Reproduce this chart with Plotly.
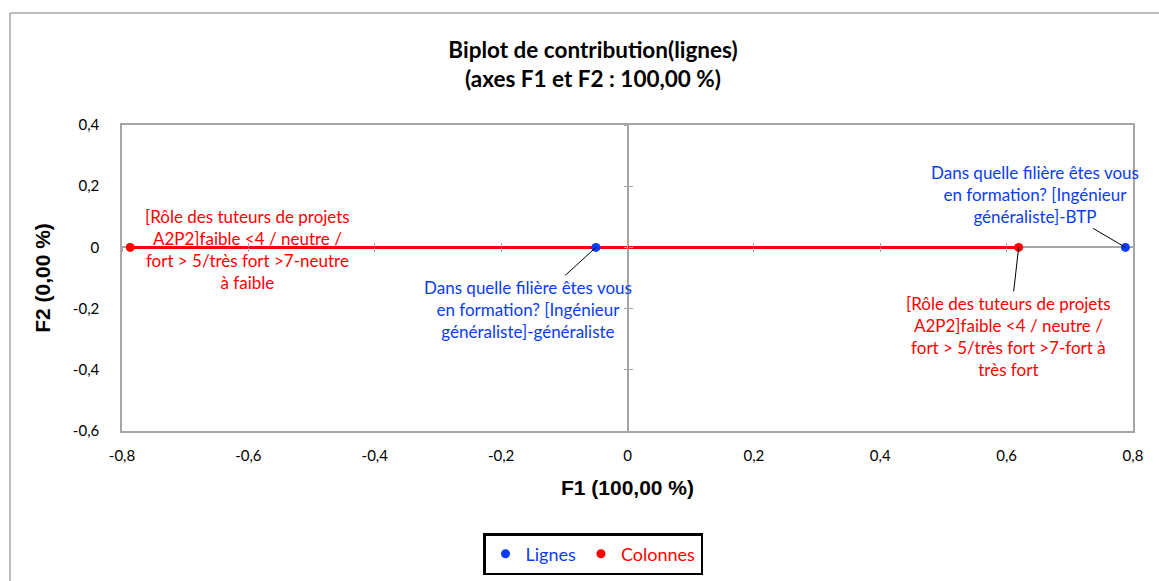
import plotly.graph_objects as go

# ---- data ----
lignes_labels = [
    "Dans quelle filière êtes vous<br>en formation? [Ingénieur<br>généraliste]-généraliste",
    "Dans quelle filière êtes vous<br>en formation? [Ingénieur<br>généraliste]-BTP",
]
lignes_f1 = [-0.05, 0.788]
lignes_f2 = [0.0, 0.0]

colonnes_labels = [
    "[Rôle des tuteurs de projets<br>A2P2]faible <4 / neutre /<br>fort > 5/très fort >7-neutre<br>à faible",
    "[Rôle des tuteurs de projets<br>A2P2]faible <4 / neutre /<br>fort > 5/très fort >7-fort à<br>très fort",
]
colonnes_f1 = [-0.787, 0.619]
colonnes_f2 = [0.0, 0.0]

x_ticks = [-0.8, -0.6, -0.4, -0.2, 0, 0.2, 0.4, 0.6, 0.8]
y_ticks = [-0.6, -0.4, -0.2, 0, 0.2, 0.4]

BLUE = "#0A3CF5"
RED = "#FF0000"
GRAY = "#A6A6A6"
FONT = "Lato"

def fr(v):
    s = f"{v:.1f}".replace(".", ",")
    if s in ("0,0", "-0,0"):
        return "0"
    return s

# body margin is removed by post_script, so container coords == window coords
W, H = 1159, 581
ML, MR, MT, MB = 122, 26, 125, 150
PW = W - ML - MR
PH = H - MT - MB

def px(xw):
    return (xw - ML) / PW

def py(yw):
    return (H - MB - yw) / PH

fig = go.Figure()

fig.add_trace(go.Scatter(x=colonnes_f1, y=colonnes_f2, mode="lines",
                         line=dict(color=RED, width=3), showlegend=False, hoverinfo="skip"))
fig.add_trace(go.Scatter(x=lignes_f1, y=lignes_f2, mode="markers",
                         marker=dict(color=BLUE, size=9),
                         name=f"<span style='color:{BLUE}'>Lignes</span>"))
fig.add_trace(go.Scatter(x=colonnes_f1, y=colonnes_f2, mode="markers",
                         marker=dict(color=RED, size=9),
                         name=f"<span style='color:{RED}'>Colonnes</span>"))

# dummy traces to create the cross-tick axes at zero
for xa, ya in [("x2", "y"), ("x3", "y"), ("x", "y2"), ("x", "y3")]:
    fig.add_trace(go.Scatter(x=[None], y=[None], xaxis=xa, yaxis=ya,
                             showlegend=False, hoverinfo="skip"))

ann_font = dict(family=FONT, size=17)
fig.add_annotation(x=colonnes_f1[0], y=colonnes_f2[0], text=colonnes_labels[0],
                   showarrow=True, arrowcolor="rgba(0,0,0,0)", ax=117, ay=2,
                   font=dict(color=RED, **ann_font), align="center")
fig.add_annotation(x=lignes_f1[0], y=lignes_f2[0], text=lignes_labels[0],
                   showarrow=True, arrowhead=0, arrowwidth=1, arrowcolor="black",
                   ax=-68, ay=62, standoff=0,
                   font=dict(color=BLUE, **ann_font), align="center")
fig.add_annotation(x=lignes_f1[1], y=lignes_f2[1], text=lignes_labels[1],
                   showarrow=True, arrowhead=0, arrowwidth=1, arrowcolor="black",
                   ax=-90, ay=-53, standoff=0,
                   font=dict(color=BLUE, **ann_font), align="center")
fig.add_annotation(x=colonnes_f1[1], y=colonnes_f2[1], text=colonnes_labels[1],
                   showarrow=True, arrowhead=0, arrowwidth=1, arrowcolor="black",
                   ax=-10, ay=89, standoff=0,
                   font=dict(color=RED, **ann_font), align="center")

# outer chart frame
fig.add_shape(type="line", xref="paper", yref="paper",
              x0=px(10), x1=px(10), y0=py(13), y1=py(600),
              line=dict(color=GRAY, width=1.5))
fig.add_shape(type="line", xref="paper", yref="paper",
              x0=px(10), x1=px(1175), y0=py(13), y1=py(13),
              line=dict(color=GRAY, width=1.5))

tickfont = dict(family=FONT, size=15, color="black")
xr = [-0.8, 0.8]
yr = [-0.6, 0.4]

def cross_axis(rng, pos, side_ticks, over):
    return dict(range=rng, overlaying=over, anchor="free", position=pos, dtick=0.2, tick0=0,
                showgrid=False, zeroline=False, showline=False, automargin=False,
                ticks=side_ticks, ticklen=4, tickcolor=GRAY, tickwidth=1,
                showticklabels=False)

fig.update_layout(
    width=W, height=H,
    margin=dict(l=ML, r=MR, t=MT, b=MB, autoexpand=False),
    paper_bgcolor="white", plot_bgcolor="white",
    title=dict(text="<b>Biplot de contribution(lignes)<br>(axes F1 et F2 : 100,00 %)</b>",
               x=593 / W, xanchor="center", yref="container",
               y=1 - 57.5 / H, yanchor="middle",
               font=dict(family=FONT, size=22.5, color="black")),
    xaxis=dict(range=xr, tickvals=x_ticks, ticktext=[fr(v) for v in x_ticks],
               showgrid=False, zeroline=True, zerolinecolor=GRAY, zerolinewidth=1.5,
               showline=True, mirror=True, automargin=False,
               linecolor=GRAY, linewidth=1.5, ticks="", ticklabelstandoff=10,
               tickfont=tickfont,
               title=dict(text="<b>F1 (100,00 %)</b>", standoff=18,
                          font=dict(family="Liberation Sans", size=21, color="black"))),
    yaxis=dict(range=yr, tickvals=y_ticks, ticktext=[fr(v) for v in y_ticks],
               showgrid=False, zeroline=True, zerolinecolor=GRAY, zerolinewidth=1.5,
               showline=True, mirror=True, automargin=False,
               linecolor=GRAY, linewidth=1.5, ticks="", ticklabelstandoff=18,
               tickfont=tickfont,
               title=dict(text="<b>F2 (0,00 %)</b>", standoff=17,
                          font=dict(family="Liberation Sans", size=21, color="black"))),
    xaxis2=cross_axis(xr, 0.6, "outside", "x"),
    xaxis3=cross_axis(xr, 0.6, "inside", "x"),
    yaxis2=cross_axis(yr, 0.5, "outside", "y"),
    yaxis3=cross_axis(yr, 0.5, "inside", "y"),
    legend=dict(orientation="h", xref="container", yref="container",
                x=593 / W, xanchor="center",
                y=1 - 554 / H, yanchor="middle",
                bordercolor="black", borderwidth=2.5, bgcolor="white",
                font=dict(family=FONT, size=18), itemwidth=30, tracegroupgap=0),
    showlegend=True,
)

fig.write_html("out.html", config={"displayModeBar": False},
               post_script="document.body.style.margin='0';document.body.style.overflow='hidden';")
